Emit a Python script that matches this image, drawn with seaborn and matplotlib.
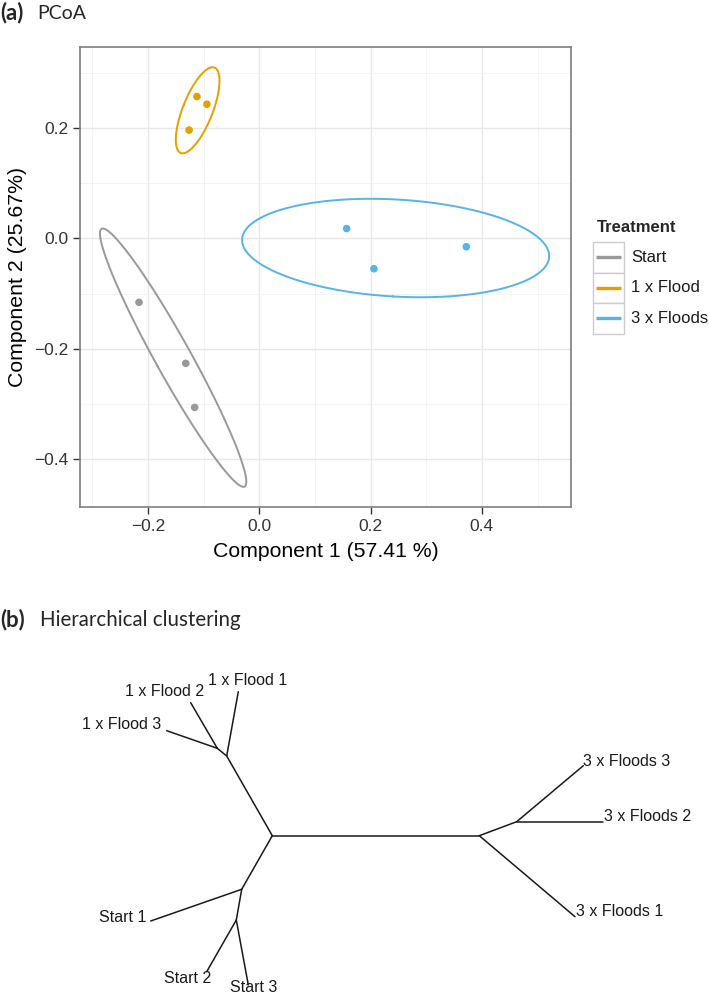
import numpy as np
import pandas as pd
import matplotlib
matplotlib.use("Agg")
import matplotlib.pyplot as plt
import seaborn as sns
from matplotlib.ticker import FixedLocator
from matplotlib.patches import Rectangle
from matplotlib.lines import Line2D

# ---------------- data: panel (a) PCoA ----------------
treatments = ["Start", "1 x Flood", "3 x Floods"]
treat_colors = ["#999999", "#E69F00", "#56B4E9"]
sample_treatment = ["Start", "Start", "Start",
                    "1 x Flood", "1 x Flood", "1 x Flood",
                    "3 x Floods", "3 x Floods", "3 x Floods"]
comp1 = [-0.216, -0.132, -0.116, -0.112, -0.094, -0.126, 0.157, 0.206, 0.372]
comp2 = [-0.116, -0.227, -0.307, 0.258, 0.244, 0.197, 0.018, -0.055, -0.015]
x_ticks = [-0.2, 0.0, 0.2, 0.4]
y_ticks = [-0.4, -0.2, 0.0, 0.2]
x_label = "Component 1 (57.41 %)"
y_label = "Component 2 (25.67%)"
legend_title = "Treatment"
ellipse_level = 0.95

# ---------------- data: panel (b) unrooted tree ----------------
node_names = ["root_a", "root_b", "flood_node", "flood23_node", "start_node",
              "start23_node", "floods_node",
              "1 x Flood 1", "1 x Flood 2", "1 x Flood 3",
              "Start 1", "Start 2", "Start 3",
              "3 x Floods 3", "3 x Floods 2", "3 x Floods 1"]
node_x = [0.0, 2.07, -0.456, -0.550, -0.306, -0.360, 2.444,
          -0.340, -0.816, -1.056, -1.216, -0.656, -0.240, 3.110, 3.304, 3.027]
node_y = [0.0, 0.0, 0.797, 0.874, -0.536, -0.843, 0.140,
          1.440, 1.330, 1.050, -0.853, -1.360, -1.493, 0.700, 0.140, -0.810]
edge_from = [0, 0, 2, 2, 3, 3, 0, 4, 4, 5, 5, 1, 6, 6, 1]
edge_to = [1, 2, 3, 7, 8, 9, 4, 10, 5, 11, 12, 6, 13, 14, 15]
tip_index = [7, 8, 9, 10, 11, 12, 13, 14, 15]

# ---------------- figure ----------------
W, H = 709, 994
sns.set_theme(style="white")
plt.rcParams["font.family"] = ["Liberation Sans", "DejaVu Sans"]
fig = plt.figure(figsize=(W / 100, H / 100), dpi=100)


def frac_box(l, t, r, b):
    return [l / W, 1 - b / H, (r - l) / W, (b - t) / H]


ax = fig.add_axes(frac_box(80, 47, 571, 507))
df = pd.DataFrame({"Treatment": sample_treatment, "c1": comp1, "c2": comp2})
pal = dict(zip(treatments, treat_colors))

# ellipses (normal-theory, chi-square radius like stat_ellipse)
radius = np.sqrt(-2 * np.log(1 - ellipse_level))
theta = np.linspace(0, 2 * np.pi, 200)
circle = np.vstack([np.cos(theta), np.sin(theta)])
rows = []
for t in treatments:
    sub = df[df.Treatment == t][["c1", "c2"]].to_numpy()
    mu = sub.mean(axis=0)
    cov = np.cov(sub.T)
    vals, vecs = np.linalg.eigh(cov)
    pts = (vecs @ np.diag(np.sqrt(np.maximum(vals, 0))) @ circle) * radius + mu[:, None]
    for i in range(pts.shape[1]):
        rows.append((t, i, pts[0, i], pts[1, i]))
ell = pd.DataFrame(rows, columns=["Treatment", "order", "x", "y"])

ax.set_axisbelow(True)
sns.lineplot(data=ell, x="x", y="y", hue="Treatment", palette=pal, sort=False,
             estimator=None, legend=False, lw=1.4, ax=ax, zorder=2)
sns.scatterplot(data=df, x="c1", y="c2", hue="Treatment", palette=pal, s=30,
                edgecolor="none", legend=False, ax=ax, zorder=3)

ax.set_xlim(-0.322, 0.560)
ax.set_ylim(-0.488, 0.348)
ax.xaxis.set_major_locator(FixedLocator(x_ticks))
ax.yaxis.set_major_locator(FixedLocator(y_ticks))
ax.xaxis.set_minor_locator(FixedLocator([-0.3, -0.1, 0.1, 0.3, 0.5]))
ax.yaxis.set_minor_locator(FixedLocator([-0.3, -0.1, 0.1, 0.3]))
ax.set_xticklabels(["\u22120.2", "0.0", "0.2", "0.4"])
ax.set_yticklabels(["\u22120.4", "\u22120.2", "0.0", "0.2"])
ax.grid(which="major", color="#E8E8E8", lw=1.0)
ax.grid(which="minor", color="#F2F2F2", lw=0.6)
ax.tick_params(axis="both", which="major", direction="out", length=5, width=1.0,
               color="#333333", labelsize=12.5, labelcolor="#333333", pad=3.5,
               bottom=True, left=True)
ax.tick_params(axis="both", which="minor", length=0)
for s in ax.spines.values():
    s.set_color("#7F7F7F")
    s.set_linewidth(1.2)
ax.set_xlabel(x_label, fontsize=15.3, color="black", labelpad=6)
ax.set_ylabel(y_label, fontsize=15.3, color="black", labelpad=5)

# ---------------- panel (b) ----------------
ax2 = fig.add_axes([0, 0, 1, 1 - 645 / H])
ax2.set_xlim(-2.723, 4.367)
ax2.set_ylim(-1.583, 1.907)
ax2.axis("off")
erows = []
for k, (a, b) in enumerate(zip(edge_from, edge_to)):
    erows.append((k, 0, node_x[a], node_y[a]))
    erows.append((k, 1, node_x[b], node_y[b]))
edf = pd.DataFrame(erows, columns=["edge", "end", "x", "y"])
sns.lineplot(data=edf, x="x", y="y", units="edge", estimator=None, sort=False,
             color="#1a1a1a", lw=1.1, ax=ax2, legend=False)
ax2.set_xlabel("")
ax2.set_ylabel("")

# label placement (offset in pixels, alignment)
label_style = {
    "1 x Flood 1": (9, 11, "center"),
    "1 x Flood 2": (13, 11, "right"),
    "1 x Flood 3": (-5, 6, "right"),
    "Start 1": (-4, 4, "right"),
    "Start 2": (5, -7, "right"),
    "Start 3": (5, -2, "center"),
    "3 x Floods 3": (0, 4, "left"),
    "3 x Floods 2": (1, 5, "left"),
    "3 x Floods 1": (1, 5, "left"),
}
for i in tip_index:
    name = node_names[i]
    dx, dy, ha = label_style[name]
    ax2.annotate(name, (node_x[i], node_y[i]), xytext=(dx, dy),
                 textcoords="offset pixels", ha=ha, va="center",
                 fontsize=11.5, color="#1a1a1a")

# ---------------- overlay: panel titles and legend ----------------
ov = fig.add_axes([0, 0, 1, 1])
ov.set_xlim(0, W)
ov.set_ylim(H, 0)
ov.axis("off")
ov.patch.set_alpha(0)

title_font = ["Lato", "DejaVu Sans"]
ov.text(0, 19, "(a)", fontsize=16, fontweight="bold", family=title_font,
        va="baseline", ha="left")
ov.text(37, 19, "PCoA", fontsize=14, family=title_font, va="baseline", ha="left")
ov.text(0, 626, "(b)", fontsize=16, fontweight="bold", family=title_font,
        va="baseline", ha="left")
ov.text(40, 626, "Hierarchical clustering", fontsize=14.8, family=title_font,
        va="baseline", ha="left")

# legend
ov.text(597, 228, legend_title, fontsize=12, fontweight="bold", va="center", ha="left")
key_top = 242
key_h = 30.5
for k, (t, c) in enumerate(zip(treatments, treat_colors)):
    y0 = key_top + k * key_h
    ov.add_patch(Rectangle((593, y0), 30.5, key_h, facecolor="white",
                           edgecolor="#CCCCCC", lw=1.0))
    ov.add_line(Line2D([596, 620.5], [y0 + key_h / 2, y0 + key_h / 2],
                       color=c, lw=2.4, solid_capstyle="butt"))
    ov.text(631, y0 + key_h / 2, t, fontsize=12, va="center", ha="left",
            color="#1a1a1a")

fig.savefig("out.png", dpi=100)
